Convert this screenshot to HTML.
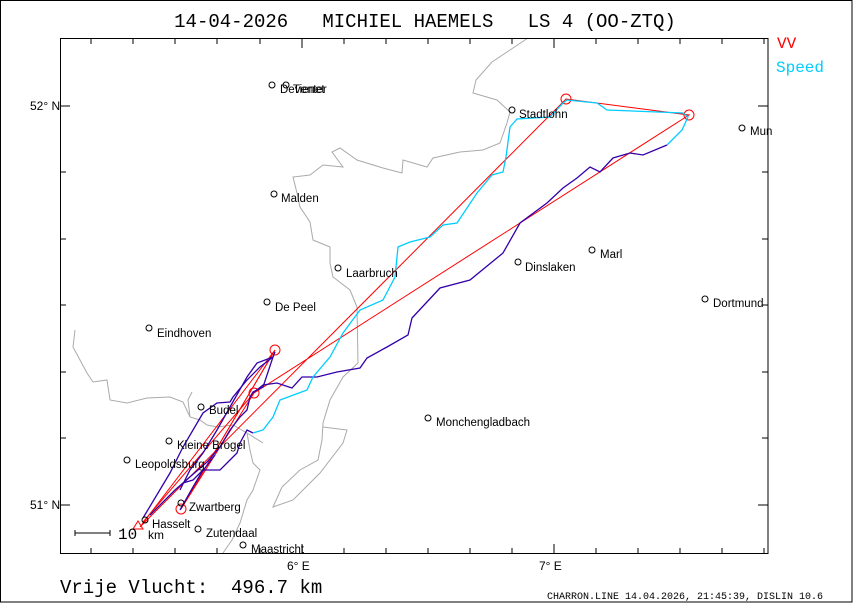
<!DOCTYPE html>
<html><head><meta charset="utf-8"><style>
html,body{margin:0;padding:0;background:#fff}
svg{display:block}
text{font-family:"Liberation Sans",sans-serif}
.c{font-size:11.5px;fill:#000}
</style></head><body>
<svg width="853" height="603" viewBox="0 0 853 603" xmlns="http://www.w3.org/2000/svg">
<rect x="0.5" y="0.5" width="851.5" height="601.5" fill="#fff" stroke="#000"/>
<text x="425" y="27" text-anchor="middle" style="font-family:'Liberation Mono',monospace;font-size:19px" xml:space="preserve">14-04-2026   MICHIEL HAEMELS   LS 4 (OO-ZTQ)</text>
<text x="777" y="48" fill="#f00" style="font-family:'Liberation Mono',monospace;font-size:16px">VV</text>
<text x="776" y="72" fill="#0cf" style="font-family:'Liberation Mono',monospace;font-size:16px">Speed</text>
<g fill="none" stroke="#aaa" stroke-width="1">
<polyline points="528,38 492,62 476,80 473,93 497,100 510,112 507,123 500,143 483,150 460,152 433,158 427,167 403,160 402,173 383,168 357,160 340,148 332,152 343,167 323,165 310,175 293,177 297,193 300,207 310,222 313,240 330,247 330,263 333,277 350,290 357,307 358,363 343,377 330,400 323,423 322,440 318,460 300,470 282,487"/>
<polyline points="75,330 73,347 87,373 93,382 107,380 110,400 127,403 147,398 170,397 183,402 190,417 200,420 207,425 217,427 233,425 247,433 263,443"/>
<polyline points="247,433 250,450 253,463 260,470 253,490 247,500 240,523 232,540 223,553"/>
<polyline points="282,487 273,507 293,500 310,483 320,473 343,443 347,430 323,427"/>
<polyline points="190,417 188,400 192,392"/>
</g>
<g fill="none" stroke="#f00" stroke-width="1">
<polyline points="140,527 275,350 181,509 254,393 689,115 566,99 140,527"/>
<polyline points="143,522 254,393"/>
<polyline points="181,509 275,350"/>
<circle cx="275" cy="350" r="5"/><circle cx="254" cy="393" r="5"/><circle cx="181" cy="509" r="5"/><circle cx="566" cy="99" r="5"/><circle cx="689" cy="115" r="5"/>
<polygon points="133,529 143,529 138,521"/>
</g>
<g fill="none" stroke="#3300aa" stroke-width="1.3">
<polyline points="143,518 170,473 183,447 203,413 217,403 230,402 233,397 247,380 260,367 273,357 275,352"/>
<polyline points="150,515 175,490 207,462 220,447 230,430 240,417 247,410 250,397 253,392 263,387 273,357 257,363 247,377 230,407 217,430 203,453 190,470 180,490"/>
<polyline points="180,510 193,487 203,470 220,470 227,463 237,453 240,443 247,430 253,433"/>
<polyline points="183,483 193,480 205,468 215,455"/>
<polyline points="253,393 263,385 277,383 292,388 302,377 317,377 337,372 360,368 367,358 387,347 408,335 412,318 440,288 470,280 503,253 520,223 547,203 563,188 577,178 590,167 600,172 613,158 630,153 643,155 667,145"/>
</g>
<polyline fill="none" stroke="#0cf" stroke-width="1.3" points="253,433 263,430 273,417 280,400 307,390 313,377 330,357 343,333 360,310 383,300 395,277 398,247 410,242 430,237 443,225 457,223 477,193 492,175 503,172 506,157 510,127 517,119 550,117 563,103 567,100 597,103 607,110 683,113 688,117 682,130 667,145"/>
<g stroke="#000" stroke-width="1" fill="none">
<rect x="60.5" y="38.5" width="707.5" height="515"/>
<path d="M91 554v-6M133 554v-6M175 554v-6M217 554v-6M260 554v-6M302 554v-10M344 554v-6M386 554v-6M428 554v-6M470 554v-6M512 554v-6M554 554v-10M596 554v-6M638 554v-6M680 554v-6M722 554v-6M764 554v-6"/>
<path d="M91 38v6M133 38v6M175 38v6M217 38v6M260 38v6M302 38v10M344 38v6M386 38v6M428 38v6M470 38v6M512 38v6M554 38v10M596 38v6M638 38v6M680 38v6M722 38v6M764 38v6"/>
<path d="M60 106h10M60 172h6M60 239h6M60 305h6M60 372h6M60 438h6M60 505h10"/>
<path d="M768 106h-10M768 172h-6M768 239h-6M768 305h-6M768 372h-6M768 438h-6M768 505h-10"/>
<path d="M75 533h35M75 530v6M110 530v6"/>
</g>
<text x="30" y="110" style="font-size:12px">52° N</text>
<text x="30" y="509" style="font-size:12px">51° N</text>
<text x="287" y="570" style="font-size:12px">6° E</text>
<text x="539" y="570" style="font-size:12px">7° E</text>
<text x="118" y="539" style="font-family:'Liberation Mono',monospace;font-size:16px">10</text>
<text x="148" y="539" style="font-size:12px">km</text>
<g fill="none" stroke="#000" stroke-width="1">
<circle cx="272" cy="85" r="3"/><circle cx="286" cy="85" r="3"/><circle cx="512" cy="110" r="3"/><circle cx="742" cy="128" r="3"/><circle cx="274" cy="194" r="3"/><circle cx="338" cy="268" r="3"/><circle cx="592" cy="250" r="3"/><circle cx="518" cy="262" r="3"/><circle cx="705" cy="299" r="3"/><circle cx="267" cy="302" r="3"/><circle cx="149" cy="328" r="3"/><circle cx="201" cy="407" r="3"/><circle cx="169" cy="441" r="3"/><circle cx="127" cy="460" r="3"/><circle cx="428" cy="418" r="3"/><circle cx="181" cy="503" r="3"/><circle cx="145" cy="520" r="3"/><circle cx="198" cy="529" r="3"/><circle cx="243" cy="545" r="3"/>
</g>
<g class="c">
<text x="280" y="93">Deventer</text><text x="293" y="93">Tienet</text>
<text x="519" y="118">Stadtlohn</text>
<text x="750" y="135">Mun</text>
<text x="281" y="202">Malden</text>
<text x="346" y="277">Laarbruch</text>
<text x="600" y="258">Marl</text>
<text x="525" y="271">Dinslaken</text>
<text x="713" y="307">Dortmund</text>
<text x="275" y="311">De Peel</text>
<text x="157" y="337">Eindhoven</text>
<text x="209" y="414">Budel</text>
<text x="177" y="449">Kleine Brogel</text>
<text x="135" y="468">Leopoldsburg</text>
<text x="436" y="426">Monchengladbach</text>
<text x="189" y="511">Zwartberg</text>
<text x="152" y="528">Hasselt</text>
<text x="206" y="537">Zutendaal</text>
<text x="251" y="553">Maastricht</text>
</g>
<text x="60" y="593" style="font-family:'Liberation Mono',monospace;font-size:19px" xml:space="preserve">Vrije Vlucht:  496.7 km</text>
<text x="547" y="599" style="font-family:'Liberation Mono',monospace;font-size:10px">CHARRON.LINE 14.04.2026, 21:45:39, DISLIN 10.6</text>
</svg>
</body></html>
